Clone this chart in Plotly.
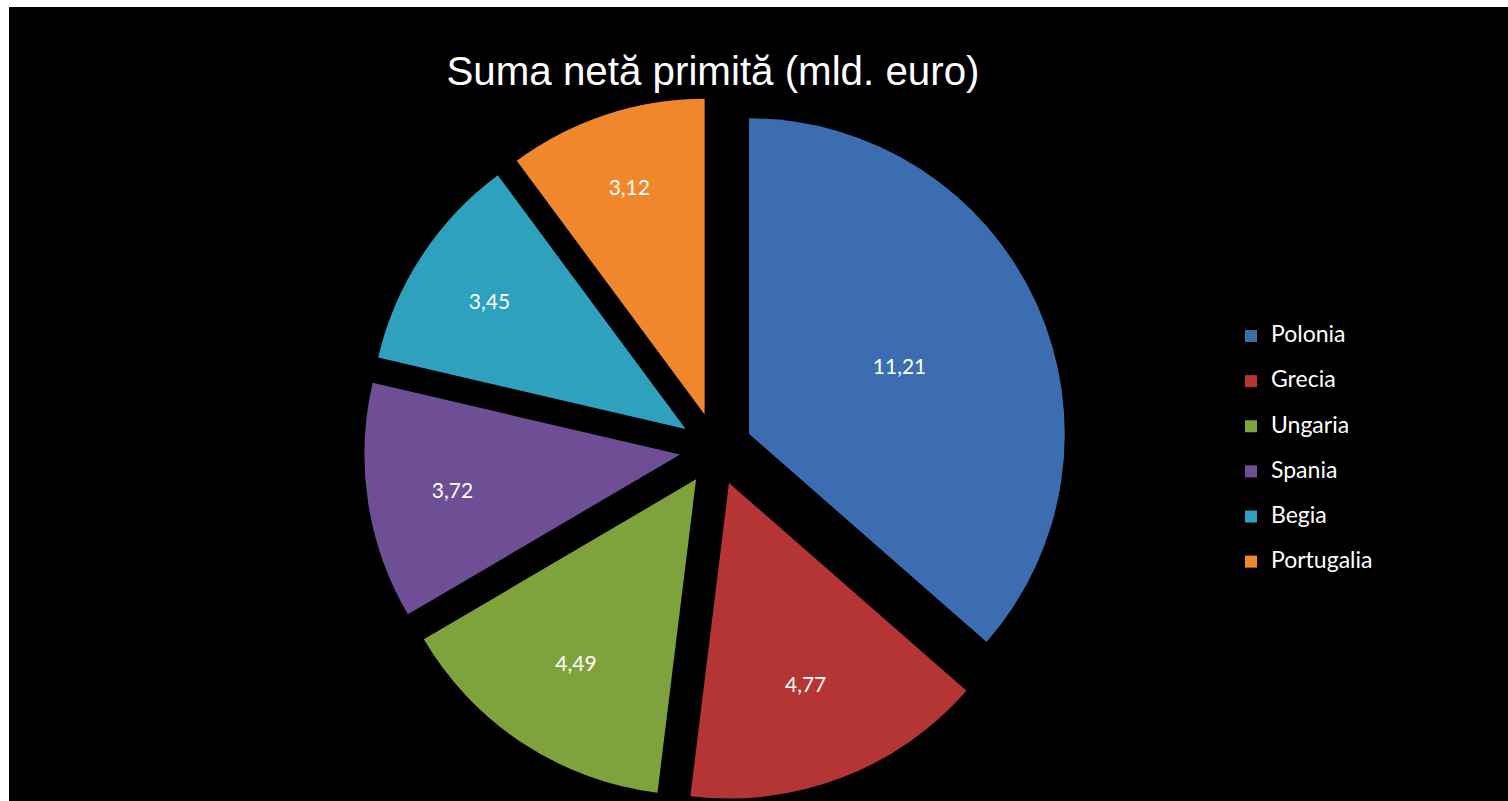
import plotly.graph_objects as go

countries = ["Polonia", "Grecia", "Ungaria", "Spania", "Begia", "Portugalia"]
values = [11.21, 4.77, 4.49, 3.72, 3.45, 3.12]
colors = ["#3b6db0", "#b53535", "#7fa33c", "#6e4f96", "#2ea1bf", "#f0872c"]

W, H = 1508, 801

# legend entries: country name on first line, spacer line to widen legend row spacing
legend_labels = ["<span style='font-size:23px'>%s</span><br> " % c for c in countries]

fig = go.Figure(go.Pie(
    labels=legend_labels,
    values=values,
    sort=False,
    direction="clockwise",
    rotation=0,
    pull=[0.115] * len(values),
    marker=dict(colors=colors, line=dict(width=0)),
    texttemplate="%{value:.2f}",
    textinfo="value",
    textposition="inside",
    insidetextorientation="horizontal",
    textfont=dict(family="Lato, Noto Sans, sans-serif", size=21, color="white"),
    domain=dict(x=[362 / W, 1070 / W], y=[0.0, 1 - 97 / H]),
    customdata=countries,
    hovertemplate="%{customdata}: %{value:.2f}<extra></extra>",
))

fig.update_layout(
    width=W, height=H,
    margin=dict(l=0, r=0, t=0, b=0),
    paper_bgcolor="white",
    plot_bgcolor="black",
    separators=", ",
    title=dict(
        text="Suma netă primită (mld. euro)",
        x=713 / W, xanchor="center",
        y=1 - 71 / H, yanchor="middle",
        font=dict(family="Liberation Sans, Arial, sans-serif", size=40.3, color="white"),
    ),
    legend=dict(
        x=1231 / W, xanchor="left",
        y=1 - 319 / H, yanchor="top",
        font=dict(family="Lato, Noto Sans, sans-serif", size=16.2, color="white"),
        valign="top",
        bgcolor="rgba(0,0,0,0)",
        itemclick=False,
    ),
    shapes=[dict(
        type="rect", xref="paper", yref="paper",
        x0=9 / W, x1=1.0, y0=0.0, y1=1 - 7 / H,
        fillcolor="black", line=dict(width=0), layer="below",
    )],
)

fig.write_html("out.html")
